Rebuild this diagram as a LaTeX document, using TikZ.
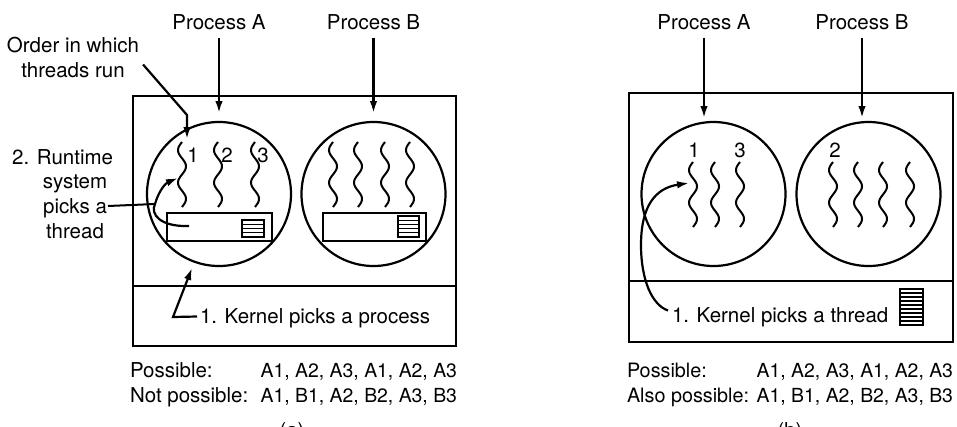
\documentclass[tikz,border=0pt]{standalone}
\usepackage{fontspec}
\setmainfont{TeX Gyre Heros}
\usetikzlibrary{arrows.meta}

% run queue icon: left, top, width, height, number of rows
\newcommand\runqueue[5]{%
  \draw[line width=1.5pt] (#1,#2) rectangle ++(#3,#4);
  \pgfmathtruncatemacro\rqlast{#5-1}%
  \foreach \k in {1,...,\rqlast}{\draw[line width=1.2pt] (#1,{#2+#4*\k/#5}) -- ++(#3,0);}%
}

\begin{document}
\begin{tikzpicture}[x=1pt,y=-1pt,
  every node/.style={font=\fontsize{20.5}{24.7}\selectfont, inner sep=0pt, outer sep=0pt},
  seq/.style={font=\fontsize{19.4}{24}\selectfont, anchor=base east},
  sysbox/.style={draw, line width=2.2pt, minimum width=323pt, minimum height=250pt},
  proc/.style={draw, circle, line width=2.2pt, minimum size=144pt},
  rtbox/.style={draw, line width=2pt, minimum height=28pt},
  arr/.style={line width=2.2pt, -{Latex[length=12pt,width=7.5pt]}},
  thr/.style={line width=2pt},
]
\useasboundingbox (0,0) rectangle (957,426);

% a wavy thread, 65pt long, hanging down from (#1,#2)
\newcommand\wavy[2]{%
  \draw[thr, shift={(#1,#2)}] plot[domain=0:4, samples=49, smooth, variable=\u] ({-4*sin(\u*180)}, {\u*16.25});%
}

% ================= (a) user-level threads =================
\node[sysbox] (sysA) at (294.5,221) {};
\draw[line width=2.2pt] (sysA.west |- 0,286) -- (sysA.east |- 0,286);

\node[proc] (cAa) at (219,194) {};
\node[proc] (cBa) at (373.5,194) {};

\node[rtbox, minimum width=105pt] (rtA) at (219.5,227) {};
\node[rtbox, minimum width=103pt] (rtB) at (374.5,227) {};
\runqueue{242}{220}{22}{17}{4}
\runqueue{398}{216}{21}{21}{5}

\foreach \px in {182,218,255} {\wavy{\px}{142}}
\foreach \px in {333,358,385,410} {\wavy{\px}{142}}
\node (n1a) at (193,155) {1};
\node (n2a) at (227,155) {2};
\node (n3a) at (263,155) {3};

\node (pAa) at (219,22) {Process A};
\node (pBa) at (373.5,22) {Process B};
\draw[arr] ([yshift=-8pt]pAa.south) -- ([yshift=9pt]cAa.north);
\draw[arr] ([yshift=-8pt]pBa.south) -- ([yshift=9pt]cBa.north);

\node[align=center] (order) at (73,57.5) {Order in which\\threads run};
\coordinate (ordbend) at (187,115);
\coordinate (ordtip) at (187,139);
\draw[arr] ([shift={(4pt,-7pt)}]order.east) -- (ordbend) -- (ordtip);

\node[align=center] (runtime) at (75,194) {\llap{2. }Runtime\\system\\picks a\\thread};
\coordinate (picksend) at (108,206);
\coordinate (rtjoin) at (155,204);
\coordinate (rtstart) at (189,226);
\coordinate (rttip) at (178,178);
\draw[line width=2pt] (picksend) -- (rtjoin);
\draw[arr] (rtstart) .. controls (160,227) and (150,214) .. (rtjoin)
                     .. controls (159,190) and (166,183) .. (rttip);

\node[anchor=base west] (kernA) at (200,323.5) {1. Kernel picks a process};
\coordinate (kAbend) at (173,317);
\coordinate (kAtip) at (192,268);
\draw[arr] ([shift={(-3pt,7pt)}]kernA.base west) -- (kAbend) -- (kAtip);

\node[anchor=base west] (possA) at (130,377.5) {Possible:};
\node[seq] (seqA1) at (457,377.5) {A1, A2, A3, A1, A2, A3};
\node[anchor=base west] (notA) at (130,402.5) {Not possible:};
\node[seq] (seqA2) at (457,402.5) {A1, B1, A2, B2, A3, B3};
\node[anchor=base] (capA) at (292,437) {(a)};

% ================= (b) kernel-level threads =================
\node[sysbox, minimum width=324pt, minimum height=249pt] (sysB) at (791,217.5) {};
\draw[line width=2.2pt] (sysB.west |- 0,281) -- (sysB.east |- 0,281);

\node[proc] (cAb) at (713.5,194) {};
\node[proc] (cBb) at (868.5,194) {};

\foreach \px in {693,715,740} {\wavy{\px}{162}}
\foreach \px in {833,858,883,910} {\wavy{\px}{162}}
\node (n1b) at (694,150) {1};
\node (n3b) at (740,150) {3};
\node (n2b) at (835,150) {2};

\node (pAb) at (704,22) {Process A};
\node (pBb) at (862,22) {Process B};
\draw[arr] ([yshift=-8pt]pAb.south) -- ([yshift=4pt]cAb.north -| pAb);
\draw[arr] ([yshift=-8pt]pBb.south) -- ([yshift=4pt]cBb.north -| pBb);

\node[anchor=base west] (kernB) at (672,322.5) {1. Kernel picks a thread};
\runqueue{900}{289}{23}{36}{9}
\coordinate (kBmid) at (641,245);
\coordinate (kBtip) at (689,183);
\draw[arr] ([shift={(-4pt,12pt)}]kernB.base west) .. controls (652,305) and (641,280) .. (kBmid)
                     .. controls (641,205) and (656,188) .. (kBtip);

\node[anchor=base west, font=\fontsize{19.8}{24}\selectfont] (possB) at (627,377.5) {Possible:};
\node[seq] (seqB1) at (953,377.5) {A1, A2, A3, A1, A2, A3};
\node[anchor=base west, font=\fontsize{19.8}{24}\selectfont] (alsoB) at (627,402.5) {Also possible:};
\node[seq] (seqB2) at (953,402.5) {A1, B1, A2, B2, A3, B3};
\node[anchor=base] (capB) at (790,437) {(b)};
\end{tikzpicture}
\end{document}
